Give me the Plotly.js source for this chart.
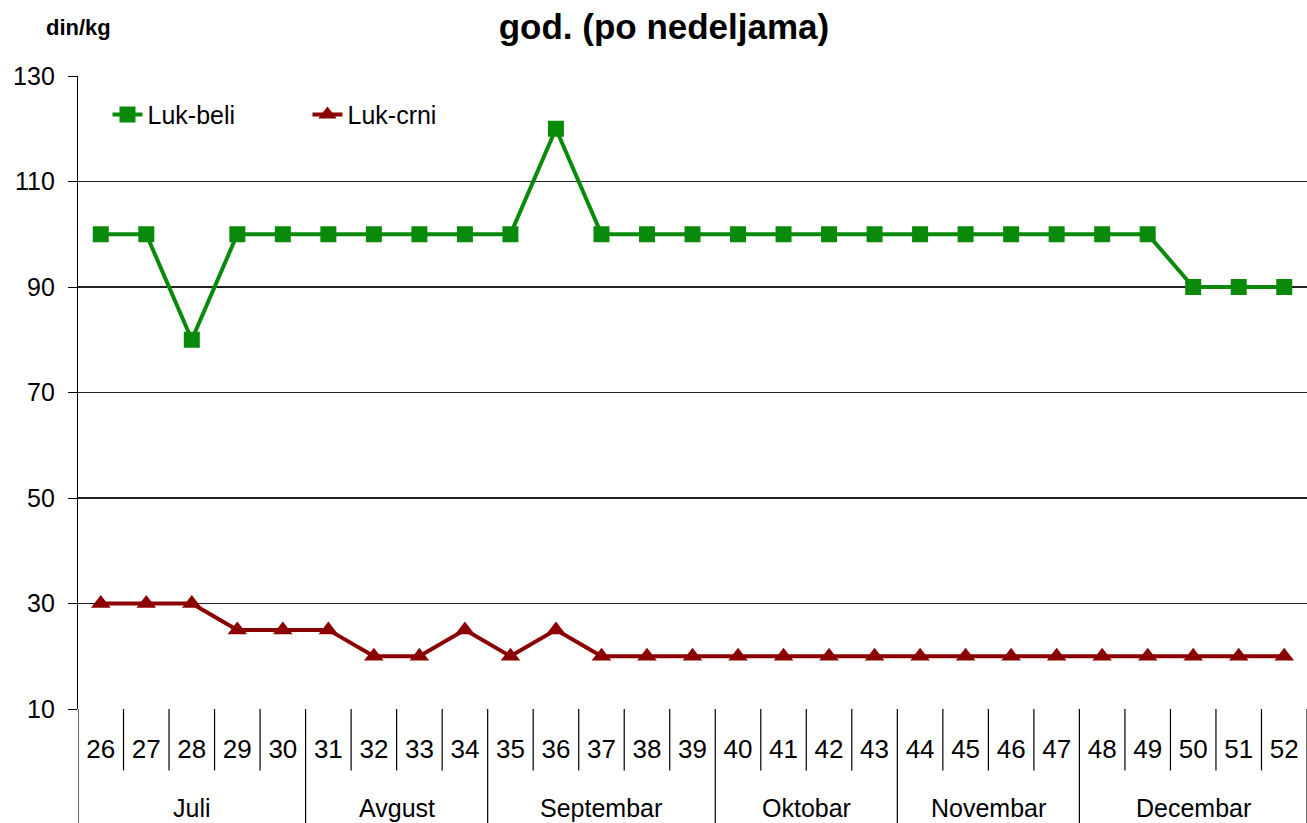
<!DOCTYPE html>
<html><head><meta charset="utf-8">
<script src="https://cdn.plot.ly/plotly-3.0.1.min.js"></script>
<style>html,body{margin:0;padding:0;background:#fff}#c{width:1307px;height:823px}</style>
</head><body><div id="c"></div>
<script>
const weeks = ['26','27','28','29','30','31','32','33','34','35','36','37','38','39','40','41','42','43','44','45','46','47','48','49','50','51','52'];
const lukBeli = [100,100,80,100,100,100,100,100,100,100,120,100,100,100,100,100,100,100,100,100,100,100,100,100,90,90,90];
const lukCrni = [30,30,30,25,25,25,20,20,25,20,25,20,20,20,20,20,20,20,20,20,20,20,20,20,20,20,20];
const months = ['Juli','Avgust','Septembar','Oktobar','Novembar','Decembar'];
const monthWeekCounts = [5,4,5,4,4,5];

const FONT = 'Liberation Sans, Arial, sans-serif';
const shapes = [];
const annotations = [];
let start = 0;
const monthStarts = [];
monthWeekCounts.forEach(n => { monthStarts.push(start); start += n; });
for (let i = 0; i <= weeks.length; i++) {
  const isMonth = monthStarts.includes(i) || i === weeks.length;
  shapes.push({type:'line', xref:'x', yref:'paper', x0:i-0.5, x1:i-0.5, y0:0, y1:isMonth ? -0.185 : -0.097,
    line:{color:'#000', width:1.2}});
}
monthWeekCounts.forEach((n, k) => {
  const center = monthStarts[k] + (n - 1) / 2;
  annotations.push({xref:'x', yref:'paper', x:center, y:-0.157, yanchor:'middle', xanchor:'center',
    text:months[k], showarrow:false, font:{family:FONT, size:25, color:'#000'}});
});
annotations.push({xref:'paper', yref:'paper', x:0, y:1.077, xanchor:'center', yanchor:'middle',
  text:'<b>din/kg</b>', showarrow:false, font:{family:FONT, size:22, color:'#000'}});

const traces = [
  {x:weeks, y:lukBeli, name:'Luk-beli', type:'scatter', mode:'lines+markers',
   line:{color:'#0a8a0a', width:4}, marker:{symbol:'square', size:16, color:'#0a8a0a'}},
  {x:weeks, y:lukCrni, name:'Luk-crni', type:'scatter', mode:'lines+markers',
   line:{color:'#8b0000', width:4}, marker:{symbol:'triangle-up', size:17, color:'#8b0000'}}
];

const layout = {
  width:1307, height:823,
  margin:{l:78, r:0, t:76, b:114},
  paper_bgcolor:'#fff', plot_bgcolor:'#fff',
  title:{text:'<b>god. (po nedeljama)</b>', x:0.508, xref:'container', y:0.968, yref:'container', yanchor:'middle',
    font:{family:FONT, size:35, color:'#000'}},
  showlegend:true,
  legend:{x:0.024, y:0.975, xanchor:'left', yanchor:'top', orientation:'h', bgcolor:'rgba(255,255,255,0)',
    font:{family:FONT, size:25, color:'#000'}, entrywidth:155, entrywidthmode:'pixels', tracegroupgap:0},
  xaxis:{type:'category', range:[-0.5, 26.5], showgrid:false, zeroline:false, showline:false,
    ticks:'', tickfont:{family:FONT, size:26, color:'#000'}, ticklabelstandoff:22, fixedrange:true},
  yaxis:{range:[10,130], tick0:10, dtick:20, showgrid:true, gridcolor:'#222', gridwidth:1.2,
    showline:true, linecolor:'#000', linewidth:1.2, ticks:'outside', ticklen:9, tickcolor:'#000',
    zeroline:false, tickfont:{family:FONT, size:25, color:'#000'}, ticklabelstandoff:8, fixedrange:true},
  shapes:shapes,
  annotations:annotations
};
Plotly.newPlot('c', traces, layout, {displayModeBar:false, staticPlot:true});
</script>
</body></html>
